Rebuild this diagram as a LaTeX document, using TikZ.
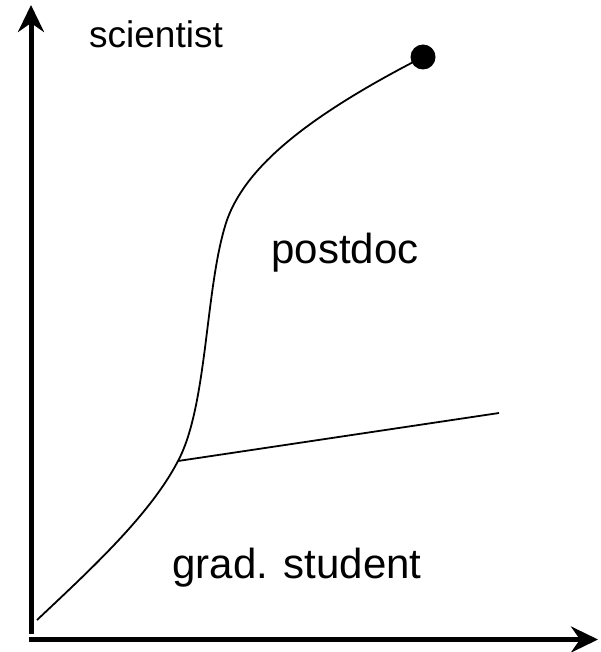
\documentclass[tikz,border=0pt]{standalone}
\usepackage{fontspec}
\setmainfont{Liberation Sans}
\usetikzlibrary{arrows.meta}
\begin{document}
\begin{tikzpicture}[x=1pt,y=-1pt,
  axis/.style={line width=5pt,-{Stealth[length=27pt,width=26pt,inset=9pt]}},
  thin/.style={line width=1.8pt},
  lab/.style={anchor=base,inner sep=0pt},
  bigfont/.style={font=\fontsize{42}{50}\selectfont},
  smallfont/.style={font=\fontsize{37}{44}\selectfont}]
\useasboundingbox (0,0) rectangle (600,652);
\coordinate (ybot) at (31,634);
\coordinate (ytop) at (31,5);
\coordinate (xleft) at (28.5,639.5);
\coordinate (xright) at (598,639.5);
\draw[axis] (ybot) -- (ytop);
\draw[axis] (xleft) -- (xright);
\coordinate (start) at (37,620);
\coordinate (junction) at (178,461);
\coordinate (bend) at (227,220);
\coordinate (lineend) at (499,413);
\node[circle,fill=black,inner sep=0pt,minimum size=25pt] (dot) at (423,57) {};
\draw[thin] (start) .. controls (90,570) and (150,515) .. (junction)
  .. controls (208,405) and (205,285) .. (bend)
  .. controls (245,170) and (300,120) .. (dot.center);
\draw[thin] (junction) -- (lineend);
\node[lab,smallfont] (sci) at (156,48) {scientist};
\node[lab,bigfont] (post) at (345,263) {postdoc};
\node[lab,bigfont] (grad) at (297,578) {grad. student};
\end{tikzpicture}
\end{document}
